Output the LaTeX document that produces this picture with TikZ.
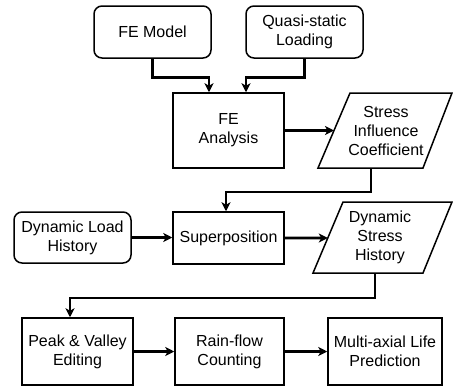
\documentclass[tikz,border=0pt]{standalone}
\usepackage{fontspec}
\setmainfont{Liberation Sans}
\usetikzlibrary{arrows.meta,calc}
\begin{document}
\begin{tikzpicture}[x=1pt,y=-1pt,
  txt/.style={font=\fontsize{16}{19}\selectfont, align=center, inner sep=0pt},
  box/.style={txt, draw, line width=1.5pt, minimum width=#1},
  rbox/.style={box=#1, rounded corners=8pt},
  para/.style={draw, line width=1.5pt, line join=miter},
  conn/.style={line width=2.6pt, -{Stealth[length=9pt,width=9pt,inset=2.5pt]}}]
\useasboundingbox[fill=white] (0,0) rectangle (453,389);

% top row
\node[rbox=117pt, minimum height=52pt] (fem) at (152.5,32) {FE Model};
\node[rbox=117pt, minimum height=52pt] (qsl) at (304.5,32) {Quasi-static\\Loading};

% FE analysis
\node[box=111pt, minimum height=75pt] (fea) at (228.5,130.5) {FE\\Analysis};

% stress influence coefficient (parallelogram)
\coordinate (sic-tl) at (350,93);
\coordinate (sic-tr) at (452,93);
\coordinate (sic-br) at (423,168);
\coordinate (sic-bl) at (318,168);
\draw[para] (sic-tl) -- (sic-tr) -- (sic-br) -- (sic-bl) -- cycle;
\node[txt] (sic) at (386,130.5) {Stress\\Influence\\Coefficient};
\coordinate (sic-in) at ($(sic-bl)!0.5!(sic-tl)$);
\coordinate (sic-out) at (371,168);

% middle row
\node[rbox=117pt, minimum height=51pt] (dlh) at (72.5,237.5) {Dynamic Load\\History};
\node[box=111pt, minimum height=52pt] (sup) at (228.5,238) {Superposition};

\coordinate (dsh-tl) at (343,202);
\coordinate (dsh-tr) at (452,202);
\coordinate (dsh-br) at (423,273);
\coordinate (dsh-bl) at (313,273);
\draw[para] (dsh-tl) -- (dsh-tr) -- (dsh-br) -- (dsh-bl) -- cycle;
\node[txt] (dsh) at (380,237.5) {Dynamic\\Stress\\History};
\coordinate (dsh-in) at ($(dsh-bl)!0.493!(dsh-tl)$);
\coordinate (dsh-out) at (375,273);

% bottom row
\node[box=111pt, minimum height=67pt] (pve) at (77.5,351.5) {Peak \& Valley\\Editing};
\node[box=109pt, minimum height=67pt] (rfc) at (229.5,351.5) {Rain-flow\\Counting};
\node[box=114pt, minimum height=67pt] (mlp) at (385,351.5) {Multi-axial Life\\Prediction};

% connectors
\draw[conn] (fem.south) -- ++(0,19) -| ([xshift=-19.5pt]fea.north);
\draw[conn] (qsl.south) -- ++(0,19) -| ([xshift=17.5pt]fea.north);
\draw[conn] (fea.east) -- (sic-in);
\draw[conn] (sic-out) -- ++(0,24) -| ([xshift=-2.5pt]sup.north);
\draw[conn] (dlh.east) -- (dlh.east -| sup.west);
\draw[conn] (sup.east) -- (dsh-in);
\draw[conn] (dsh-out) -- ++(0,25) -| ([xshift=-7.5pt]pve.north);
\draw[conn] (pve.east) -- (rfc.west);
\draw[conn] (rfc.east) -- (mlp.west);
\end{tikzpicture}
\end{document}
